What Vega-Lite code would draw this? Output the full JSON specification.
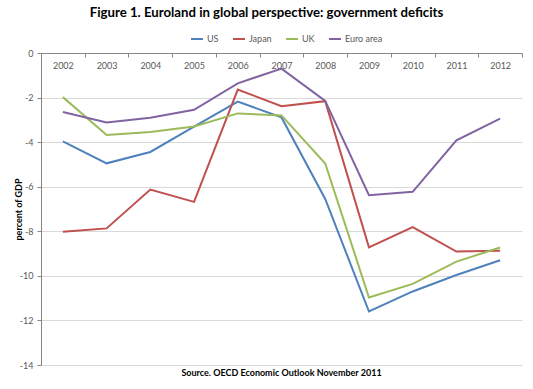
{
  "$schema": "https://vega.github.io/schema/vega-lite/v6.json",
  "width": 481,
  "height": 312,
  "autosize": {"type": "none"},
  "padding": {"left": 41, "top": 53, "right": 11, "bottom": 24},
  "background": "white",
  "title": {
    "text": "Figure 1. Euroland in global perspective: government deficits",
    "font": "Lato", "fontSize": 13.2, "fontWeight": "bold", "color": "#000000",
    "anchor": "middle", "frame": "group", "offset": 12, "dx": -15
  },
  "config": {
    "view": {"stroke": null},
    "font": "Lato"
  },
  "data": {
    "values": [
      {"year": "2002", "series": "US", "value": -3.97},
      {"year": "2003", "series": "US", "value": -4.95},
      {"year": "2004", "series": "US", "value": -4.44},
      {"year": "2005", "series": "US", "value": -3.3},
      {"year": "2006", "series": "US", "value": -2.18},
      {"year": "2007", "series": "US", "value": -2.89},
      {"year": "2008", "series": "US", "value": -6.55},
      {"year": "2009", "series": "US", "value": -11.6},
      {"year": "2010", "series": "US", "value": -10.7},
      {"year": "2011", "series": "US", "value": -9.96},
      {"year": "2012", "series": "US", "value": -9.3},
      {"year": "2002", "series": "Japan", "value": -8.02},
      {"year": "2003", "series": "Japan", "value": -7.87},
      {"year": "2004", "series": "Japan", "value": -6.13},
      {"year": "2005", "series": "Japan", "value": -6.68},
      {"year": "2006", "series": "Japan", "value": -1.64},
      {"year": "2007", "series": "Japan", "value": -2.39},
      {"year": "2008", "series": "Japan", "value": -2.16},
      {"year": "2009", "series": "Japan", "value": -8.72},
      {"year": "2010", "series": "Japan", "value": -7.81},
      {"year": "2011", "series": "Japan", "value": -8.91},
      {"year": "2012", "series": "Japan", "value": -8.87},
      {"year": "2002", "series": "UK", "value": -1.98},
      {"year": "2003", "series": "UK", "value": -3.68},
      {"year": "2004", "series": "UK", "value": -3.55},
      {"year": "2005", "series": "UK", "value": -3.3},
      {"year": "2006", "series": "UK", "value": -2.71},
      {"year": "2007", "series": "UK", "value": -2.8},
      {"year": "2008", "series": "UK", "value": -4.96},
      {"year": "2009", "series": "UK", "value": -10.97},
      {"year": "2010", "series": "UK", "value": -10.36},
      {"year": "2011", "series": "UK", "value": -9.36},
      {"year": "2012", "series": "UK", "value": -8.73},
      {"year": "2002", "series": "Euro area", "value": -2.65},
      {"year": "2003", "series": "Euro area", "value": -3.12},
      {"year": "2004", "series": "Euro area", "value": -2.91},
      {"year": "2005", "series": "Euro area", "value": -2.55},
      {"year": "2006", "series": "Euro area", "value": -1.36},
      {"year": "2007", "series": "Euro area", "value": -0.7},
      {"year": "2008", "series": "Euro area", "value": -2.15},
      {"year": "2009", "series": "Euro area", "value": -6.38},
      {"year": "2010", "series": "Euro area", "value": -6.23},
      {"year": "2011", "series": "Euro area", "value": -3.92},
      {"year": "2012", "series": "Euro area", "value": -2.94}
    ]
  },
  "mark": {"type": "line", "strokeWidth": 2},
  "encoding": {
    "x": {
      "field": "year", "type": "ordinal", "bandPosition": 0.5,
      "scale": {"type": "band", "paddingInner": 0, "paddingOuter": 0},
      "axis": {
        "orient": "bottom", "offset": -312,
        "labelAngle": 0, "labelFont": "Lato", "labelFontSize": 9, "labelColor": "#595959",
        "labelPadding": 4,
        "domainColor": "#868686", "tickColor": "#868686", "tickBand": "extent", "tickSize": 4,
        "grid": false,
        "title": "Source. OECD Economic Outlook November 2011",
        "titleFont": "Lato", "titleFontSize": 9, "titleFontWeight": "bold", "titleColor": "#000000",
        "titleBaseline": "middle", "titleX": 240, "titleY": 319
      }
    },
    "y": {
      "field": "value", "type": "quantitative",
      "scale": {"domain": [-14, 0], "nice": false, "zero": false},
      "axis": {
        "values": [-14, -12, -10, -8, -6, -4, -2, 0],
        "labelExpr": "'' + datum.value",
        "labelFont": "Lato", "labelFontSize": 9, "labelColor": "#595959", "labelPadding": 4,
        "domainColor": "#868686", "tickColor": "#868686", "tickSize": 4,
        "grid": true, "gridColor": "#d9d9d9", "gridWidth": 1,
        "title": "percent of GDP", "titleFont": "Lato", "titleFontSize": 9, "titleFontWeight": "bold",
        "titleColor": "#000000", "titlePadding": -4
      }
    },
    "color": {
      "field": "series", "type": "nominal",
      "scale": {"domain": ["US", "Japan", "UK", "Euro area"], "range": ["#4f81bd", "#c0504d", "#9bbb59", "#8064a2"]},
      "legend": {
        "orient": "none", "legendX": 149, "legendY": -21, "direction": "horizontal",
        "title": null, "symbolType": "stroke", "symbolSize": 144, "symbolStrokeWidth": 2,
        "labelFont": "Lato", "labelFontSize": 9, "labelColor": "#595959", "labelOffset": 3,
        "columnPadding": 10
      }
    }
  }
}
